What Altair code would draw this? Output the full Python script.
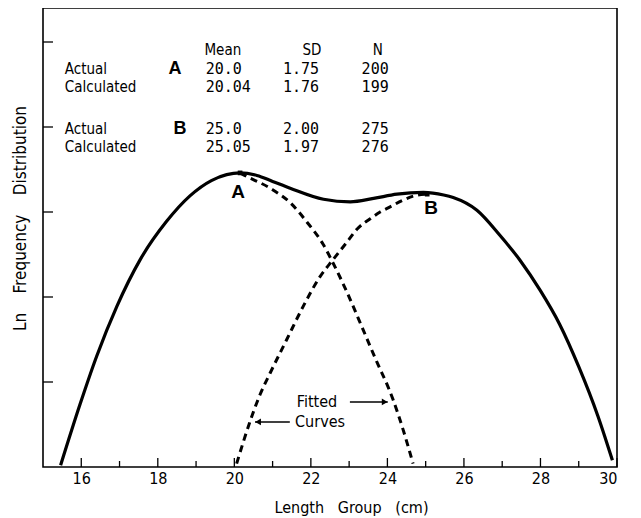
import altair as alt
import pandas as pd

# ---- data (x = length group in cm, y = ln frequency units) ----
obs_x = [15.46, 15.97, 16.40, 16.93, 17.54, 18.23, 18.84, 19.40, 19.80, 20.15, 20.59, 21.00,
         21.46, 22.33, 23.03, 23.64, 24.25, 24.94, 25.47, 25.72, 26.34, 26.95, 27.47, 27.99,
         28.50, 29.00, 29.50, 29.68, 29.88]
obs_y = [0.02, 0.74, 1.30, 1.89, 2.44, 2.89, 3.19, 3.37, 3.44, 3.46, 3.43, 3.36,
         3.28, 3.15, 3.12, 3.16, 3.21, 3.23, 3.20, 3.17, 3.02, 2.72, 2.43, 2.08,
         1.68, 1.18, 0.60, 0.36, 0.08]

fitA_x = [20.15, 20.23, 21.01, 21.46, 21.90, 22.32, 22.58, 22.95, 23.37, 23.73, 24.02, 24.15, 24.41, 24.67]
fitA_y = [3.46, 3.44, 3.26, 3.11, 2.88, 2.62, 2.40, 2.05, 1.61, 1.23, 0.94, 0.79, 0.44, 0.04]

fitB_x = [20.06, 20.46, 20.67, 20.93, 21.37, 21.80, 22.24, 22.58, 22.95, 23.21, 23.55, 23.81, 24.07, 24.41, 24.70, 25.04]
fitB_y = [0.04, 0.60, 0.85, 1.10, 1.50, 1.89, 2.24, 2.44, 2.65, 2.80, 2.92, 3.00, 3.06, 3.14, 3.19, 3.21]

major_ticks = [16, 18, 20, 22, 24, 26, 28, 30]
minor_ticks = [17, 19, 21, 23, 25, 27, 29]
y_ticks = [1, 2, 3, 4, 5]

headers = ["Mean", "SD", "N"]
header_x = [19.70, 22.03, 23.75]
header_y = [4.906, 4.906, 4.906]

row_labels = ["Actual", "Calculated", "Actual", "Calculated"]
row_y = [4.682, 4.471, 3.976, 3.765]
mean_vals = ["20.0", "20.04", "25.0", "25.05"]
sd_vals = ["1.75", "1.76", "2.00", "1.97"]
n_vals = ["200", "199", "275", "276"]

group_labels = ["A", "B"]
group_x = [18.45, 18.58]
group_y = [4.682, 3.976]

peak_labels = ["A", "B"]
peak_x = [20.15, 25.04]
peak_y = [3.46, 3.21]
peak_label_x = [20.10, 25.14]
peak_label_y = [3.24, 3.05]

note_text = ["Fitted", "Curves"]
note_x = [22.16, 22.24]
note_y = [0.765, 0.53]
arrow_x = [23.02, 21.45]
arrow_x2 = [24.01, 20.54]
arrow_y = [0.765, 0.53]
head_x = [23.93, 20.62]
head_shape = ["triangle-right", "triangle-left"]

# ---- styling ----
LEROY = "DejaVu Sans Condensed, Liberation Sans Narrow, DejaVu Sans, sans-serif"
MONO = "DejaVu Sans Mono, monospace"
BOLD = "Liberation Sans, Arial, sans-serif"
W, H = 574, 459
NB = "\u00a0"

xs = alt.Scale(domain=[15, 30], nice=False, zero=False)
ys = alt.Scale(domain=[0, 5.4], nice=False, zero=False)
xaxis = alt.Axis(values=major_ticks, ticks=False, tickSize=0, domain=False, grid=False,
                 labelFont=LEROY, labelFontSize=16, labelPadding=3, labelColor="black",
                 title=f"Length{NB*3}Group{NB*3}(cm)", titleFont=LEROY,
                 titleFontSize=16, titleFontWeight="normal", titleColor="black",
                 titleX=308, titleY=40, titleAlign="center", titleBaseline="middle")
yaxis = alt.Axis(labels=False, ticks=False, domain=False, grid=False,
                 title=f"Ln{NB*4}Frequency{NB*4}Distribution", titleFont=LEROY,
                 titleFontSize=17, titleFontWeight="normal", titleColor="black",
                 titleAngle=270, titleX=-23, titleY=210, titleAlign="center", titleBaseline="middle")


def X(f="x"):
    return alt.X(f"{f}:Q", scale=xs, axis=xaxis)


def Y(f="y"):
    return alt.Y(f"{f}:Q", scale=ys, axis=yaxis)


obs = alt.Chart(pd.DataFrame({"x": obs_x, "y": obs_y})).mark_line(
    color="black", strokeWidth=3.2, interpolate="monotone").encode(x=X(), y=Y())

fa = alt.Chart(pd.DataFrame({"x": fitA_x, "y": fitA_y})).mark_line(
    color="black", strokeWidth=3, strokeDash=[7, 5], interpolate="monotone").encode(x=X(), y=Y())
fb = alt.Chart(pd.DataFrame({"x": fitB_x, "y": fitB_y})).mark_line(
    color="black", strokeWidth=3, strokeDash=[7, 5], interpolate="monotone").encode(x=X(), y=Y())

peaks = alt.Chart(pd.DataFrame({"x": peak_x, "y": peak_y})).mark_square(
    color="black", size=22, opacity=1).encode(x=X(), y=Y())

peak_txt = alt.Chart(pd.DataFrame({"x": peak_label_x, "y": peak_label_y, "t": peak_labels})).mark_text(
    font=BOLD, fontWeight="bold", fontSize=19, color="black", baseline="middle", align="center"
).encode(x=X(), y=Y(), text="t:N")

xt_major = alt.Chart(pd.DataFrame({"x": major_ticks})).mark_rule(color="black", strokeWidth=1.3).encode(
    x=X(), y=alt.value(H), y2=alt.value(H - 9))
xt_minor = alt.Chart(pd.DataFrame({"x": minor_ticks})).mark_rule(color="black", strokeWidth=1.3).encode(
    x=X(), y=alt.value(H), y2=alt.value(H - 6))
yt = alt.Chart(pd.DataFrame({"y": y_ticks})).mark_rule(color="black", strokeWidth=1.3).encode(
    y=Y(), x=alt.value(0), x2=alt.value(10))

hdr = alt.Chart(pd.DataFrame({"x": header_x, "y": header_y, "t": headers})).mark_text(
    font=LEROY, fontSize=15, color="black", baseline="middle", align="center"
).encode(x=X(), y=Y(), text="t:N")

rows_df = pd.DataFrame({"y": row_y, "lab": row_labels, "mean": mean_vals, "sd": sd_vals, "n": n_vals,
                        "xl": [15.57] * 4, "xm": [19.25] * 4, "xs": [21.27] * 4, "xn": [23.68] * 4})
lab_txt = alt.Chart(rows_df).mark_text(font=LEROY, fontSize=15, color="black", baseline="middle",
                                       align="left").encode(x=X("xl"), y=Y(), text="lab:N")
mean_txt = alt.Chart(rows_df).mark_text(font=MONO, fontSize=15, color="black", baseline="middle",
                                        align="left").encode(x=X("xm"), y=Y(), text="mean:N")
sd_txt = alt.Chart(rows_df).mark_text(font=MONO, fontSize=15, color="black", baseline="middle",
                                      align="left").encode(x=X("xs"), y=Y(), text="sd:N")
n_txt = alt.Chart(rows_df).mark_text(font=MONO, fontSize=15, color="black", baseline="middle",
                                     align="center").encode(x=X("xn"), y=Y(), text="n:N")

grp_txt = alt.Chart(pd.DataFrame({"x": group_x, "y": group_y, "t": group_labels})).mark_text(
    font=BOLD, fontWeight="bold", fontSize=18, color="black", baseline="middle", align="center"
).encode(x=X(), y=Y(), text="t:N")

note = alt.Chart(pd.DataFrame({"x": note_x, "y": note_y, "t": note_text})).mark_text(
    font=LEROY, fontSize=16, color="black", baseline="middle", align="center"
).encode(x=X(), y=Y(), text="t:N")

arr = alt.Chart(pd.DataFrame({"x": arrow_x, "x2": arrow_x2, "y": arrow_y})).mark_rule(
    color="black", strokeWidth=1.5).encode(x=X(), x2="x2:Q", y=Y())
heads = alt.Chart(pd.DataFrame({"x": head_x, "y": arrow_y, "s": head_shape})).mark_point(
    filled=True, color="black", size=45, opacity=1).encode(
    x=X(), y=Y(), shape=alt.Shape("s:N", scale=None))

chart = alt.layer(
    obs, fa, fb, peaks, peak_txt, xt_major, xt_minor, yt, hdr, lab_txt, mean_txt, sd_txt, n_txt,
    grp_txt, note, arr, heads
).properties(
    width=W, height=H,
    autosize=alt.AutoSizeParams(type="none"),
    padding={"left": 35, "top": 0, "right": 16, "bottom": 50},
    background="white",
).configure_view(stroke="black", strokeWidth=1.6)

chart.save("out.html", embed_options={"renderer": "svg", "actions": False})
